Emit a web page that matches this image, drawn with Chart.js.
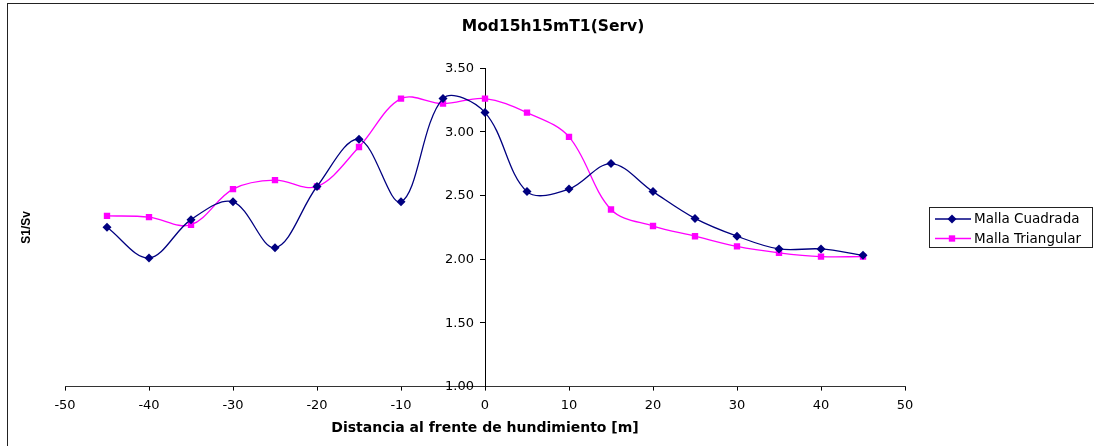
<!DOCTYPE html>
<html>
<head>
<meta charset="utf-8">
<title>Mod15h15mT1(Serv)</title>
<script src="https://cdn.jsdelivr.net/npm/chart.js@4/dist/chart.umd.min.js"></script>
<style>
  html, body { margin: 0; padding: 0; background: #fff; }
  canvas { display: block; }
</style>
</head>
<body>
<canvas id="grafico" width="1094" height="446"></canvas>
<script>
// distancia al frente (m)
const distancias = [-45, -40, -35, -30, -25, -20, -15, -10, -5, 0, 5, 10, 15, 20, 25, 30, 35, 40, 45];
const mallaCuadrada = [2.25, 2.01, 2.31, 2.45, 2.09, 2.57, 2.94, 2.45, 3.26, 3.15, 2.53, 2.55, 2.75, 2.53, 2.32, 2.18, 2.08, 2.08, 2.03];
const mallaTriangular = [2.34, 2.33, 2.27, 2.55, 2.62, 2.57, 2.88, 3.26, 3.22, 3.26, 3.15, 2.96, 2.39, 2.26, 2.18, 2.10, 2.05, 2.02, 2.02];
const nombresSeries = ['Malla Cuadrada', 'Malla Triangular'];
const tituloGrafico = 'Mod15h15mT1(Serv)';
const tituloX = 'Distancia al frente de hundimiento [m]';
const tituloY = 'S1/Sv';

document.addEventListener('DOMContentLoaded', function () {
    const ctx = document.getElementById('grafico').getContext('2d');

    function puntos(valores) {
        return distancias.map((d, i) => ({ x: d, y: valores[i] }));
    }

    // marco, titulos, etiquetas del eje Y (cruza en x=0) y leyenda, estilo Excel
    const extras = {
        id: 'extras',
        afterDraw(chart) {
            const c = chart.ctx;
            const area = chart.chartArea;
            const ejeY = chart.scales.y;
            const ejeX = chart.scales.x;

            c.save();
            c.strokeStyle = '#222';
            c.lineWidth = 1;
            c.strokeRect(7.5, 3.5, chart.width, chart.height);

            c.fillStyle = '#000';
            c.textAlign = 'center';
            c.textBaseline = 'middle';
            c.font = 'bold 15.5px "DejaVu Sans", sans-serif';
            c.fillText(tituloGrafico, 553, 27);

            // etiquetas del eje Y
            c.font = '13px "DejaVu Sans", sans-serif';
            c.textAlign = 'right';
            const x0 = ejeX.getPixelForValue(0);
            ejeY.ticks.forEach((t) => {
                c.fillText(t.value.toFixed(2), x0 - 11, ejeY.getPixelForValue(t.value) + 0.5);
            });

            c.textAlign = 'center';
            c.font = 'bold 12px "Liberation Sans", Arial, sans-serif';
            c.translate(27, (area.top + area.bottom) / 2);
            c.rotate(-Math.PI / 2);
            c.fillText(tituloY, 0, 0);
            c.restore();

            c.save();
            c.strokeStyle = '#222';
            c.lineWidth = 1;
            c.strokeRect(929.5, 207.5, 163, 40);
            c.font = '13.5px "DejaVu Sans", sans-serif';
            c.textAlign = 'left';
            c.textBaseline = 'middle';
            chart.data.datasets.forEach((ds, i) => {
                const y = 219 + i * 19.5;
                c.strokeStyle = ds.borderColor;
                c.lineWidth = ds.borderWidth;
                c.beginPath();
                c.moveTo(935, y);
                c.lineTo(971, y);
                c.stroke();
                c.fillStyle = ds.pointBackgroundColor;
                Chart.helpers.drawPoint(c, {
                    pointStyle: ds.pointStyle,
                    radius: ds.pointRadius,
                    borderWidth: 0,
                    rotation: 0
                }, 952, y);
                c.fillStyle = '#000';
                c.fillText(ds.label, 974, y + 0.5);
            });
            c.restore();
        }
    };

    new Chart(ctx, {
        type: 'scatter',
        data: {
            datasets: [{
                label: nombresSeries[0],
                data: puntos(mallaCuadrada),
                showLine: true,
                tension: 0.35,
                borderColor: '#000080',
                backgroundColor: '#000080',
                pointBackgroundColor: '#000080',
                pointBorderWidth: 0,
                borderWidth: 1.3,
                pointStyle: 'rectRot',
                pointRadius: 4.5
            }, {
                label: nombresSeries[1],
                data: puntos(mallaTriangular),
                showLine: true,
                tension: 0.35,
                borderColor: '#ff00ff',
                backgroundColor: '#ff00ff',
                pointBackgroundColor: '#ff00ff',
                pointBorderWidth: 0,
                borderWidth: 1.3,
                pointStyle: 'rect',
                pointRadius: 4.5
            }]
        },
        options: {
            responsive: false,
            animation: false,
            layout: {
                padding: { left: 65, right: 189, top: 68, bottom: 9 }
            },
            plugins: {
                title: { display: false },
                legend: { display: false },
                tooltip: { enabled: false }
            },
            scales: {
                x: {
                    type: 'linear',
                    position: 'bottom',
                    min: -50,
                    max: 50,
                    ticks: {
                        stepSize: 10,
                        color: '#000',
                        padding: 7,
                        maxRotation: 0,
                        font: { family: 'DejaVu Sans', size: 13 }
                    },
                    grid: {
                        display: true,
                        drawOnChartArea: false,
                        drawTicks: true,
                        tickLength: 4,
                        color: '#000'
                    },
                    border: { display: true, color: '#333', width: 1 },
                    title: {
                        display: true,
                        text: tituloX,
                        color: '#000',
                        font: { family: 'DejaVu Sans', size: 14, weight: 'bold' },
                        padding: { top: 0, bottom: 0 }
                    }
                },
                y: {
                    type: 'linear',
                    position: { x: 0 },
                    min: 1,
                    max: 3.5,
                    ticks: {
                        stepSize: 0.5,
                        display: false
                    },
                    grid: {
                        display: true,
                        drawOnChartArea: false,
                        drawTicks: true,
                        tickLength: 5,
                        color: '#000'
                    },
                    border: { display: true, color: '#000', width: 1 }
                }
            }
        },
        plugins: [extras]
    });
});
</script>
</body>
</html>
